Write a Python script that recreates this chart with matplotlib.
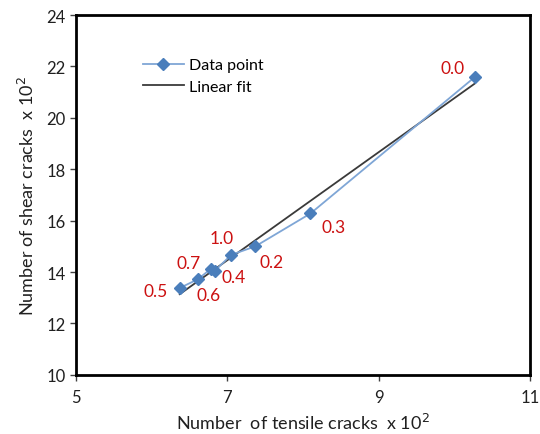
import numpy as np
import matplotlib
matplotlib.use("Agg")
import matplotlib.pyplot as plt

plt.rcParams['font.family'] = ['Lato', 'DejaVu Sans']

# Crack counts (x 10^2) for each case, with the case label
case_labels = ["0.5", "0.6", "0.7", "0.4", "1.0", "0.2", "0.3", "0.0"]
tensile = [6.37, 6.61, 6.78, 6.84, 7.05, 7.37, 8.10, 10.27]
shear = [13.38, 13.72, 14.12, 14.06, 14.67, 15.00, 16.28, 21.58]

# label offsets (points) around each marker
label_offsets = [(-17, -2), (8, -11), (-16, 4), (13, -5), (-7, 12), (12, -11), (17, -10), (-16, 7)]

x_ticks = [5, 7, 9, 11]
y_ticks = [10, 12, 14, 16, 18, 20, 22, 24]

fig = plt.figure(figsize=(5.4, 4.35), dpi=100)
ax = fig.add_axes([0.141, 0.136, 0.840, 0.827])

blue = "#4a7ebb"
ax.plot(tensile, shear, color="#7fa6d6", lw=1.3, marker="D", ms=6,
        mfc=blue, mec=blue, label="Data point", zorder=3)

slope, intercept = np.polyfit(tensile, shear, 1)
xf = np.array([min(tensile), max(tensile)])
ax.plot(xf, slope * xf + intercept, color="#3a3a3a", lw=1.3,
        label="Linear fit", zorder=2)

for lab, x, y, off in zip(case_labels, tensile, shear, label_offsets):
    ax.annotate(lab, (x, y), xytext=off, textcoords="offset points",
                ha="center", va="center", color="#cc1111", fontsize=12.5)

ax.set_xlim(5, 11)
ax.set_ylim(10, 24)
ax.set_xticks(x_ticks)
ax.set_yticks(y_ticks)
ax.tick_params(direction="out", length=4, width=1, colors="#404040",
               labelsize=12, labelcolor="#202020")
ax.tick_params(axis="x", pad=6)
for s in ax.spines.values():
    s.set_linewidth(2)
    s.set_color("black")

ax.set_xlabel("Number  of tensile cracks  x 10$^2$", fontsize=13, color="#202020", labelpad=5)
ax.set_ylabel("Number of shear cracks  x 10$^2$", fontsize=13, color="#202020", labelpad=7)

leg = ax.legend(loc="upper left", bbox_to_anchor=(0.115, 0.92), frameon=False,
                fontsize=11.5, handlelength=2.6, handletextpad=0.3, labelspacing=0.45)

fig.savefig("out.png", dpi=100)
